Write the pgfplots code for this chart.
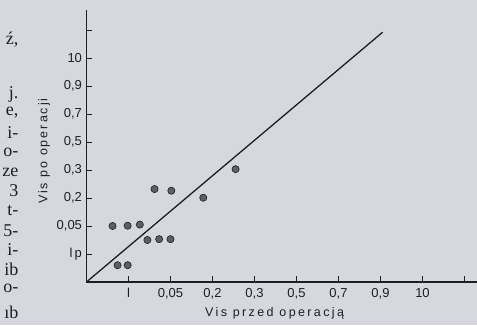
\documentclass[border=0pt]{standalone}
\usepackage{fontspec}
\setmainfont{Liberation Sans}
\newfontfamily\serifleft{Liberation Serif}
\usepackage{pgfplots}
\pgfplotsset{compat=1.18}
\definecolor{paper}{RGB}{213,217,222}
\definecolor{ink}{RGB}{30,30,34}
\definecolor{dotfill}{RGB}{92,95,100}
\newcommand{\lm}[2]{\node[anchor=east, inner sep=0, text=ink, font=\serifleft\fontsize{18}{18}\selectfont] at (18.5pt,{(325-#1)*1pt}) {#2};}
\begin{document}
\begin{tikzpicture}
\fill[paper] (0pt,0pt) rectangle (477pt,325pt);
\useasboundingbox (0pt,0pt) rectangle (477pt,325pt);
\lm{40}{ź,}
\lm{94}{j.}
\lm{113}{e,}
\lm{133}{i-}
\lm{152}{o-}
\lm{172}{ze}
\lm{191}{3}
\lm{211}{t-}
\lm{231}{5-}
\lm{250}{i-}
\lm{269}{ib}
\lm{288}{o-}
\lm{312}{ıb}
\begin{axis}[
  at={(86.5pt,43pt)}, anchor=origin,
  x=42pt, y=28pt,
  xmin=0, xmax=9.35, ymin=0, ymax=9.7,
  axis lines=left,
  axis line style={-, line width=1.2pt, ink},
  tick align=inside,
  major tick length=6pt,
  tick style={line width=1pt, ink},
  xtick={1,2,3,4,5,6,7,8,9},
  xticklabels={l,{0,05},{0,2},{0,3},{0,5},{0,7},{0,9},10,{}},
  ytick={1,2,3,4,5,6,7,8,9},
  yticklabels={{l\,p},{0,05},{0,2},{0,3},{0,5},{0,7},{0,9},10,{}},
  /pgf/number format/assume math mode=true,
  ticklabel style={font=\fontsize{13}{15}\selectfont, text=ink},
  xticklabel style={yshift=-3pt},
  yticklabel style={xshift=-1pt},
  xlabel={\addfontfeatures{LetterSpace=19}Vis przed operacją},
  ylabel={\addfontfeatures{LetterSpace=16}Vis po operacji},
  label style={font=\fontsize{12.5}{14}\selectfont, text=ink},
  xlabel style={at={(axis description cs:0.479,-0.114)}, anchor=center},
  ylabel style={at={(axis description cs:-0.108,0.482)}, anchor=center, rotate=0},
  clip=false,
]
\addplot[ink, line width=1.3pt] coordinates {(0,0) (7.05,8.92)};
\addplot[only marks, mark=*, mark size=3.6pt,
  mark options={fill=dotfill, draw=ink, line width=0.6pt}] coordinates {
  (0.62,2.00) (0.98,2.01) (1.27,2.05)
  (0.74,0.60) (0.98,0.60)
  (1.45,1.50) (1.73,1.53) (2.00,1.53)
  (1.62,3.32) (2.02,3.26)
  (2.78,3.01) (3.55,4.03)
};
\end{axis}
\end{tikzpicture}
\end{document}
